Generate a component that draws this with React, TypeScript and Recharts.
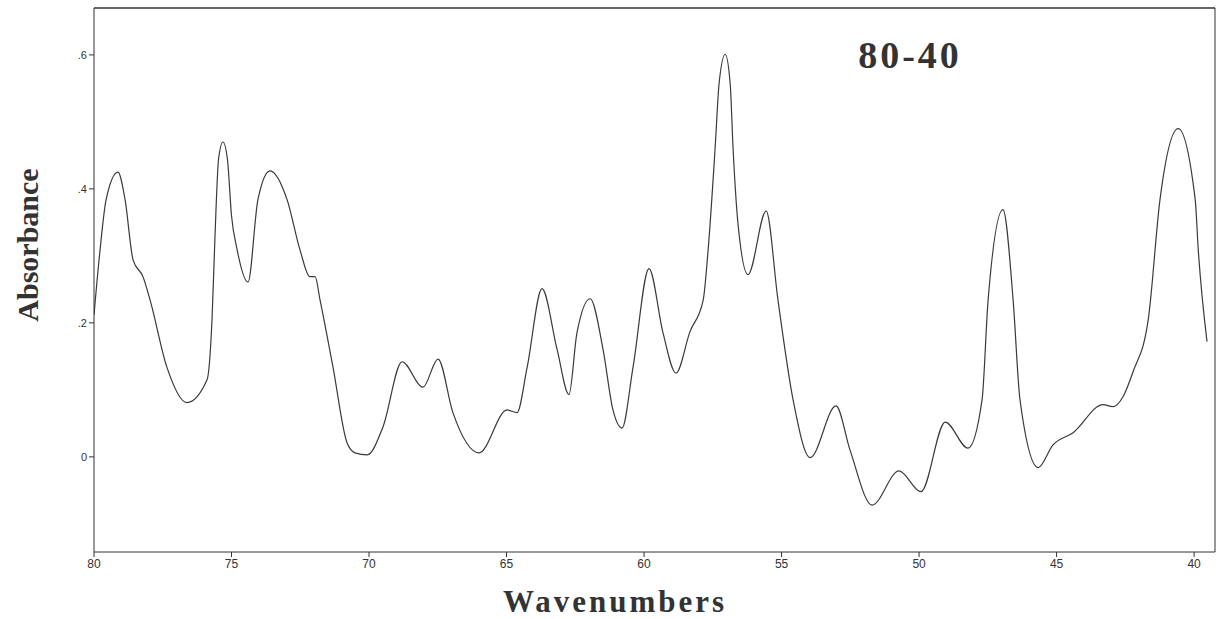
import { LineChart, Line, XAxis, YAxis, ReferenceLine } from 'recharts';

// wavenumber positions (left to right, 80 -> 39.5)
const wavenumbers = [
  80, 79.78, 79.56, 79.13, 78.87, 78.58, 78.22, 77.96, 77.35, 76.62,
  75.89, 75.71, 75.6, 75.47, 75.31, 75.15, 75.0, 74.8, 74.4, 74.04, 73.6, 72.98, 72.51,
  72.15, 71.96, 71.78, 71.31, 70.8, 70.51, 70.07, 69.49, 68.8, 68.04,
  67.49, 66.95, 66.0, 64.98, 64.62, 64.25, 63.71, 63.16, 62.73, 62.44,
  61.96, 61.49, 61.13, 60.8, 60.4, 59.82, 59.31, 58.84, 58.33, 57.85,
  57.67, 57.42, 57.27, 57.05, 56.87, 56.76, 56.58, 56.22, 55.56, 55.13,
  54.58, 53.96, 53.02, 52.51, 51.71, 50.73, 49.93, 49.05, 48.22, 47.71,
  47.49, 46.95, 46.58, 46.33, 45.67, 45.13, 44.4, 43.31, 42.95, 42.58,
  42.22, 41.67, 41.24, 40.58, 39.96, 39.85, 39.53,
];

const absorbance = [
  0.212, 0.309, 0.384, 0.425, 0.384, 0.294, 0.269, 0.234, 0.134, 0.081,
  0.115, 0.204, 0.33, 0.445, 0.47, 0.445, 0.36, 0.31, 0.261, 0.384, 0.427, 0.384, 0.309,
  0.269, 0.269, 0.234, 0.134, 0.021, 0.006, 0.003, 0.045, 0.142, 0.104,
  0.146, 0.066, 0.006, 0.07, 0.066, 0.134, 0.251, 0.16, 0.093, 0.185,
  0.236, 0.16, 0.07, 0.043, 0.134, 0.281, 0.185, 0.125, 0.187, 0.234,
  0.309, 0.458, 0.558, 0.601, 0.558, 0.458, 0.346, 0.272, 0.367, 0.234,
  0.085, -0.001, 0.076, 0.01, -0.072, -0.021, -0.052, 0.052, 0.013, 0.085,
  0.234, 0.369, 0.234, 0.085, -0.016, 0.018, 0.036, 0.078, 0.075, 0.09,
  0.127, 0.204, 0.384, 0.49, 0.384, 0.31, 0.172,
];

const xTicks = [80, 75, 70, 65, 60, 55, 50, 45, 40];
const yTicks = [0, 0.2, 0.4, 0.6];
const xDomain = [39.24, 80];
const yDomain = [-0.142, 0.67];

const data = wavenumbers.map((w, i) => ({ w, a: absorbance[i] }));

const tickStyle = { fontFamily: 'Liberation Sans, Arial, sans-serif', fontSize: 11, fill: '#333' };
const serif = 'Liberation Serif, Times New Roman, serif';

export default function App() {
  return (
    <div style={{ position: 'absolute', left: 0, top: 0, width: 1219, height: 619, background: '#fff' }}>
      <LineChart width={1219} height={619} data={data} margin={{ top: 8, right: 4, bottom: 36, left: 0 }}>
        <XAxis
          dataKey="w"
          type="number"
          domain={xDomain}
          reversed
          allowDataOverflow
          ticks={xTicks}
          tickSize={5}
          height={31}
          stroke="#333"
          tick={{ ...tickStyle, fontSize: 12 }}
        />
        <YAxis
          type="number"
          domain={yDomain}
          allowDataOverflow
          ticks={yTicks}
          tickSize={5}
          width={94}
          stroke="#333"
          tick={tickStyle}
          tickFormatter={(v) => (v === 0 ? '0' : v.toFixed(1).replace(/^0/, ''))}
        />
        {/* frame: top and right edges */}
        <ReferenceLine y={yDomain[1]} stroke="#333" strokeWidth={1.5} />
        <ReferenceLine x={xDomain[0]} stroke="#333" strokeWidth={1} />
        <Line
          dataKey="a"
          type="monotone"
          stroke="#3a3a3a"
          strokeWidth={1.2}
          dot={false}
          isAnimationActive={false}
        />
      </LineChart>
      <div style={{ position: 'absolute', left: 28, top: 245, transform: 'translate(-50%, -50%) rotate(-90deg)', fontFamily: serif, fontWeight: 'bold', fontSize: 30, color: '#333', whiteSpace: 'nowrap' }}>
        Absorbance
      </div>
      <div style={{ position: 'absolute', left: 615, top: 602, transform: 'translate(-50%, -50%)', fontFamily: serif, fontWeight: 'bold', fontSize: 31, letterSpacing: 3, color: '#333', whiteSpace: 'nowrap' }}>
        Wavenumbers
      </div>
      <div style={{ position: 'absolute', left: 910, top: 55, transform: 'translate(-50%, -50%)', fontFamily: serif, fontWeight: 'bold', fontSize: 38, letterSpacing: 3, color: '#333', whiteSpace: 'nowrap' }}>
        80-40
      </div>
    </div>
  );
}
